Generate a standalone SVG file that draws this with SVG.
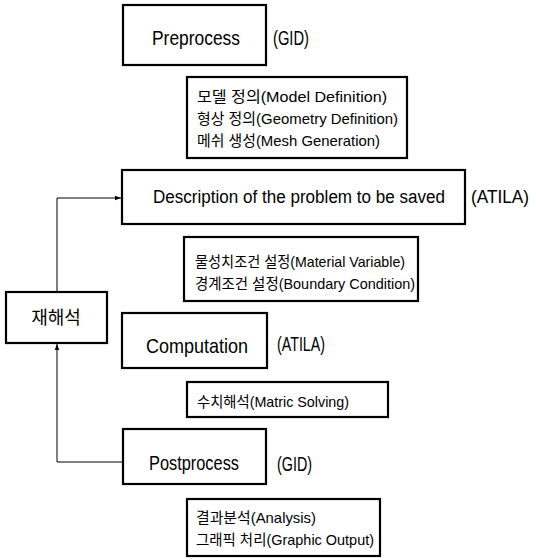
<svg xmlns="http://www.w3.org/2000/svg" width="536" height="560" viewBox="0 0 536 560">
<defs>
<style>
.box{fill:#fff;stroke:#000;stroke-width:2.2}
.main{font-family:"Liberation Sans","Noto Sans CJK KR",sans-serif;font-size:21px;fill:#000}
.mid{font-family:"Liberation Sans","Noto Sans CJK KR",sans-serif;font-size:18px;fill:#000}
.sub{font-family:"Liberation Sans","Noto Sans CJK KR",sans-serif;font-size:15px;fill:#000}
.kr{font-family:"Noto Sans CJK KR","Liberation Sans",sans-serif;font-size:18px;fill:#000}
.conn{fill:none;stroke:#000;stroke-width:1}
</style>
<marker id="ah" viewBox="0 0 8 8" refX="8" refY="4" markerWidth="6" markerHeight="6" orient="auto" markerUnits="userSpaceOnUse">
<path d="M0,1 L8,4 L0,7 Z" fill="#000"/>
</marker>
</defs>
<rect width="536" height="560" fill="#fff"/>
<g id="connectors">
<path class="conn" d="M57,292 V198 H121" marker-end="url(#ah)"/>
<path class="conn" d="M122,462 H57 V344" marker-end="url(#ah)"/>
</g>
<g id="preprocess">
<rect class="box" x="123" y="5" width="143" height="60"/>
<text class="main" x="152" y="45" textLength="88" lengthAdjust="spacingAndGlyphs">Preprocess</text>
<text class="main" x="273" y="45" textLength="36" lengthAdjust="spacingAndGlyphs">(GID)</text>
</g>
<g id="preprocess-detail">
<rect class="box" x="187" y="77" width="220" height="81"/>
<text class="sub" x="197" y="102" textLength="190" lengthAdjust="spacingAndGlyphs">모델 정의(Model Definition)</text>
<text class="sub" x="197" y="124" textLength="201" lengthAdjust="spacingAndGlyphs">형상 정의(Geometry Definition)</text>
<text class="sub" x="197" y="146" textLength="183" lengthAdjust="spacingAndGlyphs">메쉬 생성(Mesh Generation)</text>
</g>
<g id="description">
<rect class="box" x="122" y="170" width="343" height="54"/>
<text class="mid" x="153" y="203" textLength="292" lengthAdjust="spacingAndGlyphs">Description of the problem to be saved</text>
<text class="mid" x="471" y="203" textLength="58" lengthAdjust="spacingAndGlyphs">(ATILA)</text>
</g>
<g id="description-detail">
<rect class="box" x="184" y="237" width="234" height="64"/>
<text class="sub" x="195" y="267" textLength="210" lengthAdjust="spacingAndGlyphs">물성치조건 설정(Material Variable)</text>
<text class="sub" x="195" y="289" textLength="220" lengthAdjust="spacingAndGlyphs">경계조건 설정(Boundary Condition)</text>
</g>
<g id="reanalysis">
<rect class="box" x="6" y="292" width="101" height="51"/>
<text class="kr" x="56" y="324" text-anchor="middle">재해석</text>
</g>
<g id="computation">
<rect class="box" x="122" y="313" width="145" height="55"/>
<text class="main" x="146" y="353" textLength="102" lengthAdjust="spacingAndGlyphs">Computation</text>
<text class="main" x="277" y="351" textLength="48" lengthAdjust="spacingAndGlyphs">(ATILA)</text>
</g>
<g id="computation-detail">
<rect class="box" x="187" y="382" width="201" height="35"/>
<text class="sub" x="197" y="407" textLength="152" lengthAdjust="spacingAndGlyphs">수치해석(Matric Solving)</text>
</g>
<g id="postprocess">
<rect class="box" x="123" y="429" width="143" height="55"/>
<text class="main" x="149" y="470" textLength="90" lengthAdjust="spacingAndGlyphs">Postprocess</text>
<text class="main" x="277" y="471" textLength="35" lengthAdjust="spacingAndGlyphs">(GID)</text>
</g>
<g id="postprocess-detail">
<rect class="box" x="187" y="499" width="193" height="57"/>
<text class="sub" x="196" y="523" textLength="120" lengthAdjust="spacingAndGlyphs">결과분석(Analysis)</text>
<text class="sub" x="196" y="545" textLength="178" lengthAdjust="spacingAndGlyphs">그래픽 처리(Graphic Output)</text>
</g>
</svg>
